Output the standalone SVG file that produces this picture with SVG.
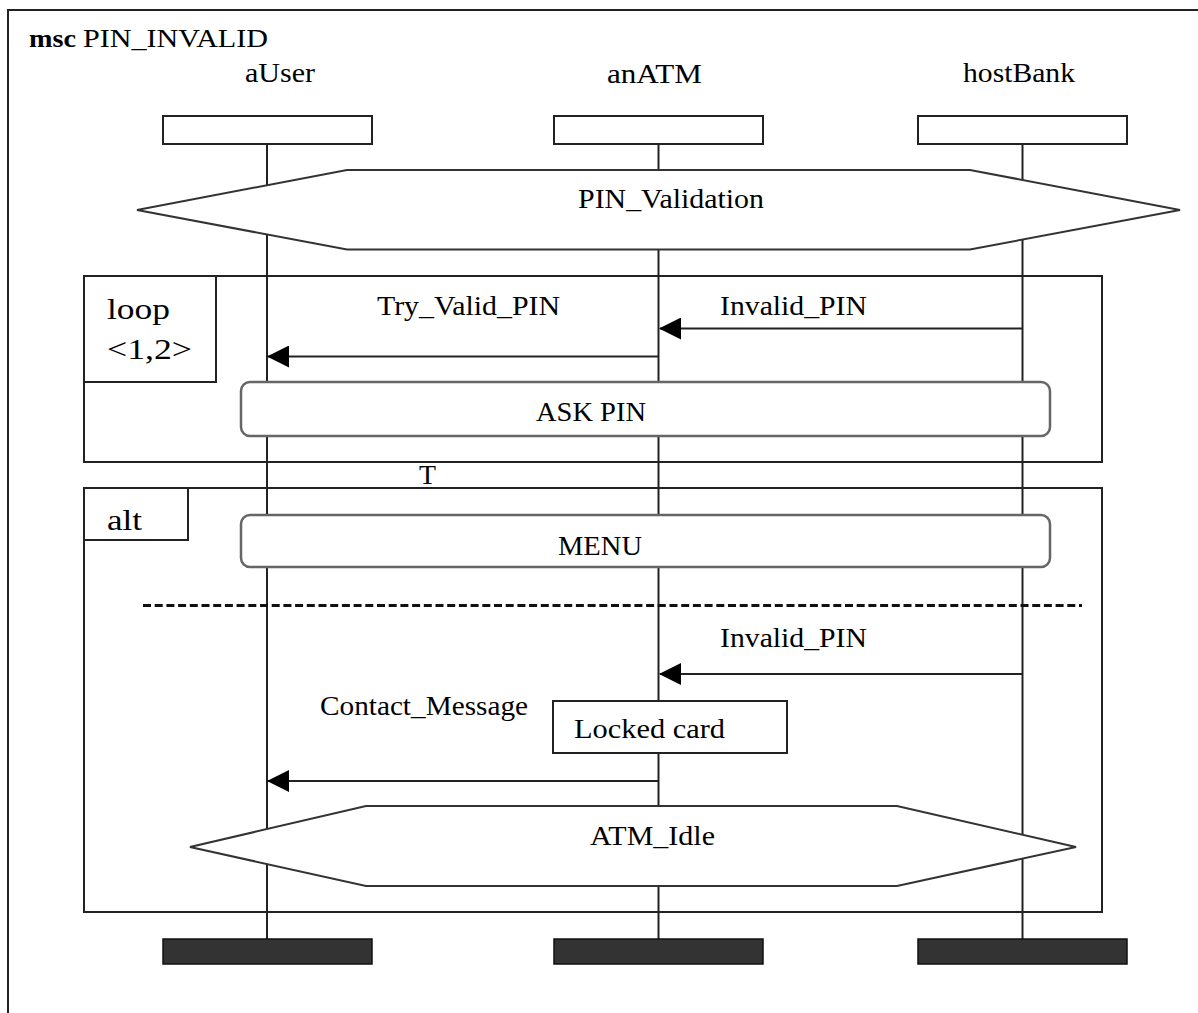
<svg xmlns="http://www.w3.org/2000/svg" width="1198" height="1013" viewBox="0 0 1198 1013">
  <style>
    .ln { fill: none; stroke: #222; stroke-width: 2; }
    .box { fill: #fff; stroke: #222; stroke-width: 2; }
    .cond { fill: #fff; stroke: #333; stroke-width: 2; stroke-linejoin: miter; }
    .act { fill: #fff; stroke: #666; stroke-width: 2.5; }
    .end { fill: #333; stroke: #111; stroke-width: 1.5; }
    .life { stroke: #222; stroke-width: 2; }
    .msg { stroke: #222; stroke-width: 2; fill: none; marker-end: url(#head); }
    .t { font-family: "Liberation Serif", "Times New Roman", serif; font-size: 28px; fill: #000; }
    .big { font-size: 30px; }
    .ttl { font-size: 25px; }
  </style>
  <defs>
    <marker id="head" markerUnits="userSpaceOnUse" markerWidth="22" markerHeight="22" refX="21" refY="11" orient="auto">
      <path d="M0,0 L22,11 L0,22 Z" fill="#000"/>
    </marker>
  </defs>

  <rect width="1198" height="1013" fill="#fff"/>

  <!-- chart frame and name -->
  <g id="chart-frame">
    <rect x="8" y="10" width="1210" height="1030" class="ln"/>
    <text x="29" y="47" class="t ttl" font-weight="bold" textLength="47" lengthAdjust="spacingAndGlyphs">msc</text>
    <text x="83" y="47" class="t ttl" textLength="185" lengthAdjust="spacingAndGlyphs">PIN_INVALID</text>
  </g>

  <!-- lifelines -->
  <g id="lifelines">
    <line x1="267" y1="144" x2="267" y2="939" class="life"/>
    <line x1="658.5" y1="144" x2="658.5" y2="939" class="life"/>
    <line x1="1022.5" y1="144" x2="1022.5" y2="939" class="life"/>
  </g>

  <!-- instances -->
  <g id="aUser">
    <text x="245" y="82" class="t" textLength="70" lengthAdjust="spacingAndGlyphs">aUser</text>
    <rect x="163" y="116" width="209" height="28" class="box"/>
    <rect x="163" y="939" width="209" height="25" class="end"/>
  </g>
  <g id="anATM">
    <text x="607" y="83" class="t" textLength="95" lengthAdjust="spacingAndGlyphs">anATM</text>
    <rect x="554" y="116" width="209" height="28" class="box"/>
    <rect x="554" y="939" width="209" height="25" class="end"/>
  </g>
  <g id="hostBank">
    <text x="963" y="82" class="t" textLength="112" lengthAdjust="spacingAndGlyphs">hostBank</text>
    <rect x="918" y="116" width="209" height="28" class="box"/>
    <rect x="918" y="939" width="209" height="25" class="end"/>
  </g>

  <!-- condition: PIN_Validation -->
  <g id="cond-pin-validation">
    <polygon points="137,210 347,170 970,170 1180,210 970,249.5 347,249.5" class="cond"/>
    <text x="578" y="208" class="t" textLength="186" lengthAdjust="spacingAndGlyphs">PIN_Validation</text>
  </g>

  <!-- loop operator -->
  <g id="loop-frame">
    <rect x="84" y="276" width="1018" height="186" class="ln"/>
    <path d="M84,382 H216 V276" class="ln"/>
    <text x="107" y="319" class="t big" textLength="63" lengthAdjust="spacingAndGlyphs">loop</text>
    <text x="107" y="359" class="t big" textLength="85" lengthAdjust="spacingAndGlyphs">&lt;1,2&gt;</text>
  </g>

  <g id="ask-pin">
    <rect x="241" y="382" width="809" height="54" rx="9" class="act"/>
    <text x="536" y="421" class="t" textLength="110" lengthAdjust="spacingAndGlyphs">ASK PIN</text>
  </g>

  <g id="label-T">
    <text x="419" y="484" class="t" textLength="17" lengthAdjust="spacingAndGlyphs">T</text>
  </g>

  <!-- alt operator -->
  <g id="alt-frame">
    <rect x="84" y="488" width="1018" height="424" class="ln"/>
    <path d="M84,540 H188 V488" class="ln"/>
    <text x="107" y="530" class="t big" textLength="35" lengthAdjust="spacingAndGlyphs">alt</text>
    <line x1="143" y1="605.5" x2="1082" y2="605.5" stroke="#111" stroke-width="3" stroke-dasharray="8 3.7"/>
  </g>

  <g id="menu">
    <rect x="241" y="515" width="809" height="52" rx="9" class="act"/>
    <text x="558" y="555" class="t" textLength="84" lengthAdjust="spacingAndGlyphs">MENU</text>
  </g>

  <g id="locked-card">
    <rect x="553" y="701" width="234" height="52" class="box"/>
    <text x="574" y="738" class="t" textLength="151" lengthAdjust="spacingAndGlyphs">Locked card</text>
  </g>

  <!-- condition: ATM_Idle -->
  <g id="cond-atm-idle">
    <polygon points="190,847 366,806 897,806 1076,847 897,886 366,886" class="cond"/>
    <text x="590" y="845" class="t" textLength="125" lengthAdjust="spacingAndGlyphs">ATM_Idle</text>
  </g>

  <!-- messages -->
  <g id="messages">
    <line x1="1022.5" y1="328.5" x2="660" y2="328.5" class="msg"/>
    <text x="720" y="315" class="t" textLength="147" lengthAdjust="spacingAndGlyphs">Invalid_PIN</text>

    <line x1="658.5" y1="356.5" x2="268" y2="356.5" class="msg"/>
    <text x="377" y="315" class="t" textLength="183" lengthAdjust="spacingAndGlyphs">Try_Valid_PIN</text>

    <line x1="1022.5" y1="674" x2="660" y2="674" class="msg"/>
    <text x="720" y="647" class="t" textLength="147" lengthAdjust="spacingAndGlyphs">Invalid_PIN</text>

    <line x1="658.5" y1="781" x2="268" y2="781" class="msg"/>
    <text x="320" y="715" class="t" textLength="208" lengthAdjust="spacingAndGlyphs">Contact_Message</text>
  </g>
</svg>
